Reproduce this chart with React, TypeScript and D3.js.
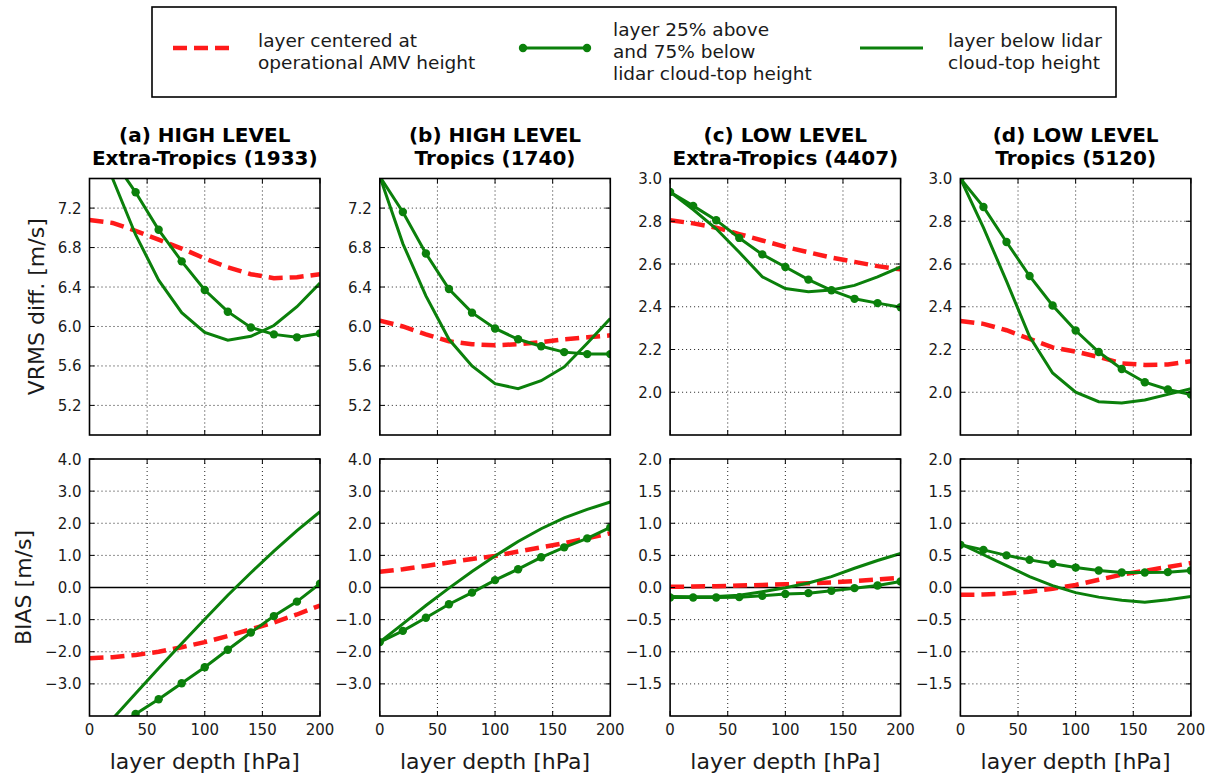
import React from "react";
import * as d3 from "d3";

// Layer depth [hPa] at which each statistic was evaluated
const depth = [0, 20, 40, 60, 80, 100, 120, 140, 160, 180, 200];

// (a) HIGH LEVEL, Extra-Tropics
const vrmsA_centered = [7.08, 7.05, 6.97, 6.88, 6.79, 6.69, 6.6, 6.53, 6.49, 6.5, 6.53];
const vrmsA_shifted = [8.2, 7.7, 7.36, 6.98, 6.66, 6.37, 6.15, 5.99, 5.92, 5.89, 5.93];
const vrmsA_below = [8.2, 7.5, 6.93, 6.47, 6.14, 5.94, 5.86, 5.9, 6.01, 6.2, 6.44];
const biasA_centered = [-2.2, -2.17, -2.1, -2.0, -1.86, -1.7, -1.51, -1.3, -1.09, -0.84, -0.56];
const biasA_shifted = [-4.85, -4.4, -3.94, -3.48, -2.98, -2.48, -1.94, -1.4, -0.89, -0.44, 0.12];
const biasA_below = [-4.9, -4.09, -3.3, -2.51, -1.74, -0.99, -0.24, 0.46, 1.13, 1.77, 2.36];

// (b) HIGH LEVEL, Tropics
const vrmsB_centered = [6.06, 6.0, 5.92, 5.85, 5.82, 5.81, 5.82, 5.84, 5.87, 5.89, 5.91];
const vrmsB_shifted = [7.52, 7.16, 6.74, 6.38, 6.14, 5.98, 5.87, 5.8, 5.74, 5.72, 5.72];
const vrmsB_below = [7.52, 6.84, 6.31, 5.87, 5.6, 5.42, 5.37, 5.45, 5.59, 5.83, 6.08];
const biasB_centered = [0.49, 0.57, 0.67, 0.78, 0.89, 0.98, 1.12, 1.25, 1.38, 1.53, 1.69];
const biasB_shifted = [-1.7, -1.35, -0.94, -0.52, -0.16, 0.23, 0.57, 0.94, 1.25, 1.53, 1.87];
const biasB_below = [-1.7, -1.13, -0.56, -0.02, 0.5, 0.98, 1.43, 1.83, 2.17, 2.43, 2.66];

// (c) LOW LEVEL, Extra-Tropics
const vrmsC_centered = [2.805, 2.79, 2.77, 2.74, 2.71, 2.68, 2.655, 2.63, 2.61, 2.59, 2.575];
const vrmsC_shifted = [2.937, 2.872, 2.805, 2.722, 2.645, 2.586, 2.527, 2.477, 2.437, 2.417, 2.398];
const vrmsC_below = [2.937, 2.855, 2.765, 2.655, 2.54, 2.485, 2.47, 2.478, 2.5, 2.54, 2.586];
const biasC_centered = [0.01, 0.015, 0.02, 0.03, 0.04, 0.05, 0.065, 0.08, 0.1, 0.125, 0.15];
const biasC_shifted = [-0.156, -0.156, -0.156, -0.15, -0.13, -0.1, -0.088, -0.052, -0.01, 0.03, 0.093];
const biasC_below = [-0.14, -0.145, -0.14, -0.12, -0.065, -0.005, 0.07, 0.17, 0.3, 0.42, 0.53];

// (d) LOW LEVEL, Tropics
const vrmsD_centered = [2.333, 2.32, 2.29, 2.25, 2.21, 2.19, 2.165, 2.135, 2.128, 2.13, 2.145];
const vrmsD_shifted = [3.0, 2.867, 2.703, 2.544, 2.406, 2.289, 2.188, 2.109, 2.047, 2.013, 1.989];
const vrmsD_below = [3.0, 2.77, 2.52, 2.26, 2.09, 2.0, 1.956, 1.95, 1.964, 1.99, 2.016];
const biasD_centered = [-0.114, -0.11, -0.095, -0.065, -0.02, 0.04, 0.12, 0.2, 0.26, 0.32, 0.38];
const biasD_shifted = [0.664, 0.586, 0.5, 0.43, 0.37, 0.31, 0.265, 0.233, 0.233, 0.239, 0.265];
const biasD_below = [0.68, 0.51, 0.34, 0.17, 0.03, -0.08, -0.15, -0.2, -0.23, -0.19, -0.14];

// Axis ticks
const xTicks = [0, 50, 100, 150, 200];
const vrmsTicksHigh = [5.2, 5.6, 6.0, 6.4, 6.8, 7.2];
const vrmsTicksLow = [2.0, 2.2, 2.4, 2.6, 2.8, 3.0];
const biasTicksHigh = [-3, -2, -1, 0, 1, 2, 3, 4];
const biasTicksLow = [-1.5, -1, -0.5, 0, 0.5, 1, 1.5, 2];

// Panel titles
const titleLine1 = ["(a) HIGH LEVEL", "(b) HIGH LEVEL", "(c) LOW LEVEL", "(d) LOW LEVEL"];
const titleLine2 = ["Extra-Tropics (1933)", "Tropics (1740)", "Extra-Tropics (4407)", "Tropics (5120)"];

// Legend entries
const legendCentered = ["layer centered at", "operational AMV height"];
const legendShifted = ["layer 25% above", "and 75% below", "lidar cloud-top height"];
const legendBelow = ["layer below lidar", "cloud-top height"];

const FONT = "DejaVu Sans, Verdana, sans-serif";
const GREEN = "#0b800b";
const RED = "#ff1a1a";
const TEXT = "#1a1a1a";
const MARKER_R = 4.2;

type Series = { centered: number[]; shifted: number[]; below: number[] };

const vrmsSeries: Series[] = [
  { centered: vrmsA_centered, shifted: vrmsA_shifted, below: vrmsA_below },
  { centered: vrmsB_centered, shifted: vrmsB_shifted, below: vrmsB_below },
  { centered: vrmsC_centered, shifted: vrmsC_shifted, below: vrmsC_below },
  { centered: vrmsD_centered, shifted: vrmsD_shifted, below: vrmsD_below },
];
const biasSeries: Series[] = [
  { centered: biasA_centered, shifted: biasA_shifted, below: biasA_below },
  { centered: biasB_centered, shifted: biasB_shifted, below: biasB_below },
  { centered: biasC_centered, shifted: biasC_shifted, below: biasC_below },
  { centered: biasD_centered, shifted: biasD_shifted, below: biasD_below },
];

const PANEL_LEFT0 = 89.5;
const PANEL_STEP = 290.3;
const PANEL_W = 230.5;
const TOP_ROW = { y0: 178.5, y1: 435 };
const BOT_ROW = { y0: 459, y1: 716 };

const fmt = (v: number) => {
  const s = v.toFixed(1);
  return v < 0 ? "\u2212" + s.slice(1) : s;
};

function Panel(props: {
  id: string;
  left: number;
  top: number;
  bottom: number;
  yDomain: [number, number];
  yTicks: number[];
  series: Series;
  showX: boolean;
  zeroLine: boolean;
}) {
  const { id, left, top, bottom, yDomain, yTicks, series, showX, zeroLine } = props;
  const x = d3.scaleLinear().domain([0, 200]).range([left, left + PANEL_W]);
  const y = d3.scaleLinear().domain(yDomain).range([bottom, top]);
  const line = d3
    .line<number>()
    .x((_, i) => x(depth[i]))
    .y((d) => y(d));
  const tickLen = 5;
  return (
    <g>
      <defs>
        <clipPath id={id}>
          <rect x={left} y={top} width={PANEL_W} height={bottom - top} />
        </clipPath>
      </defs>
      {/* dotted grid */}
      <g stroke="#222" strokeWidth={1} strokeDasharray="1,3">
        {xTicks.slice(1, -1).map((t) => (
          <line key={"gx" + t} x1={x(t)} x2={x(t)} y1={top} y2={bottom} />
        ))}
        {yTicks
          .filter((t) => y(t) > top + 1 && y(t) < bottom - 1 && !(zeroLine && t === 0))
          .map((t) => (
            <line key={"gy" + t} x1={left} x2={left + PANEL_W} y1={y(t)} y2={y(t)} />
          ))}
      </g>
      {zeroLine && (
        <line x1={left} x2={left + PANEL_W} y1={y(0)} y2={y(0)} stroke="#000" strokeWidth={1.5} />
      )}
      <g clipPath={`url(#${id})`}>
        <path
          d={line(series.centered) || ""}
          fill="none"
          stroke={RED}
          strokeWidth={4.5}
          strokeDasharray="14,7"
        />
        <path d={line(series.shifted) || ""} fill="none" stroke={GREEN} strokeWidth={3} />
        {series.shifted.map((v, i) => (
          <circle key={"m" + i} cx={x(depth[i])} cy={y(v)} r={MARKER_R} fill={GREEN} />
        ))}
        <path d={line(series.below) || ""} fill="none" stroke={GREEN} strokeWidth={3} />
      </g>
      {/* inward ticks */}
      <g stroke="#000" strokeWidth={1}>
        {xTicks.map((t) => (
          <g key={"tx" + t}>
            <line x1={x(t)} x2={x(t)} y1={bottom} y2={bottom - tickLen} />
            <line x1={x(t)} x2={x(t)} y1={top} y2={top + tickLen} />
          </g>
        ))}
        {yTicks.map((t) => (
          <g key={"ty" + t}>
            <line x1={left} x2={left + tickLen} y1={y(t)} y2={y(t)} />
            <line x1={left + PANEL_W} x2={left + PANEL_W - tickLen} y1={y(t)} y2={y(t)} />
          </g>
        ))}
      </g>
      <rect
        x={left}
        y={top}
        width={PANEL_W}
        height={bottom - top}
        fill="none"
        stroke="#000"
        strokeWidth={1.6}
      />
      <g fontFamily={FONT} fontSize={15} fill={TEXT}>
        {yTicks.map((t) => (
          <text key={"ly" + t} x={left - 8} y={y(t) + 5.5} textAnchor="end">
            {fmt(t)}
          </text>
        ))}
        {showX &&
          xTicks.map((t) => (
            <text key={"lx" + t} x={x(t)} y={bottom + 19} textAnchor="middle">
              {t}
            </text>
          ))}
      </g>
      {showX && (
        <text
          x={left + PANEL_W / 2}
          y={769}
          textAnchor="middle"
          fontFamily={FONT}
          fontSize={22}
          fill={TEXT}
        >
          layer depth [hPa]
        </text>
      )}
    </g>
  );
}

function Legend() {
  const lx = 152;
  const ly = 7;
  const handleY = 48;
  return (
    <g fontFamily={FONT} fontSize={18.5} fill={TEXT}>
      <rect x={lx} y={ly} width={964} height={90} fill="#fff" stroke="#000" strokeWidth={1.6} />
      <line
        x1={173}
        x2={235}
        y1={handleY}
        y2={handleY}
        stroke={RED}
        strokeWidth={4.5}
        strokeDasharray="14,7"
      />
      {legendCentered.map((s, i) => (
        <text key={"c" + i} x={258} y={47 + i * 22}>
          {s}
        </text>
      ))}
      <line x1={523} x2={587} y1={handleY} y2={handleY} stroke={GREEN} strokeWidth={3} />
      <circle cx={523} cy={handleY} r={MARKER_R} fill={GREEN} />
      <circle cx={587} cy={handleY} r={MARKER_R} fill={GREEN} />
      {legendShifted.map((s, i) => (
        <text key={"s" + i} x={613} y={36 + i * 22}>
          {s}
        </text>
      ))}
      <line x1={860} x2={923} y1={handleY} y2={handleY} stroke={GREEN} strokeWidth={3} />
      {legendBelow.map((s, i) => (
        <text key={"b" + i} x={948} y={47 + i * 22}>
          {s}
        </text>
      ))}
    </g>
  );
}

export default function App() {
  return (
    <div style={{ position: "absolute", left: 0, top: 0, background: "#fff" }}>
      <svg width={1210} height={781} viewBox="0 0 1210 781">
        <rect width={1210} height={781} fill="#fff" />
        <Legend />
        {vrmsSeries.map((s, i) => {
          const left = PANEL_LEFT0 + i * PANEL_STEP;
          const high = i < 2;
          return (
            <g key={"top" + i}>
              <text
                x={left + PANEL_W / 2}
                y={141.5}
                textAnchor="middle"
                fontFamily={FONT}
                fontWeight="bold"
                fontSize={20}
                fill="#000"
              >
                {titleLine1[i]}
              </text>
              <text
                x={left + PANEL_W / 2}
                y={164.5}
                textAnchor="middle"
                fontFamily={FONT}
                fontWeight="bold"
                fontSize={20}
                fill="#000"
              >
                {titleLine2[i]}
              </text>
              <Panel
                id={"clipTop" + i}
                left={left}
                top={TOP_ROW.y0}
                bottom={TOP_ROW.y1}
                yDomain={high ? [4.9, 7.5] : [1.8, 3.0]}
                yTicks={high ? vrmsTicksHigh : vrmsTicksLow}
                series={s}
                showX={false}
                zeroLine={false}
              />
            </g>
          );
        })}
        {biasSeries.map((s, i) => {
          const left = PANEL_LEFT0 + i * PANEL_STEP;
          const high = i < 2;
          return (
            <Panel
              key={"bot" + i}
              id={"clipBot" + i}
              left={left}
              top={BOT_ROW.y0}
              bottom={BOT_ROW.y1}
              yDomain={high ? [-4, 4] : [-2, 2]}
              yTicks={high ? biasTicksHigh : biasTicksLow}
              series={s}
              showX={true}
              zeroLine={true}
            />
          );
        })}
        <text
          transform={`translate(44,${(TOP_ROW.y0 + TOP_ROW.y1) / 2}) rotate(-90)`}
          textAnchor="middle"
          fontFamily={FONT}
          fontSize={22}
          fill={TEXT}
        >
          VRMS diff. [m/s]
        </text>
        <text
          transform={`translate(31,${(BOT_ROW.y0 + BOT_ROW.y1) / 2}) rotate(-90)`}
          textAnchor="middle"
          fontFamily={FONT}
          fontSize={22}
          fill={TEXT}
        >
          BIAS [m/s]
        </text>
      </svg>
    </div>
  );
}
